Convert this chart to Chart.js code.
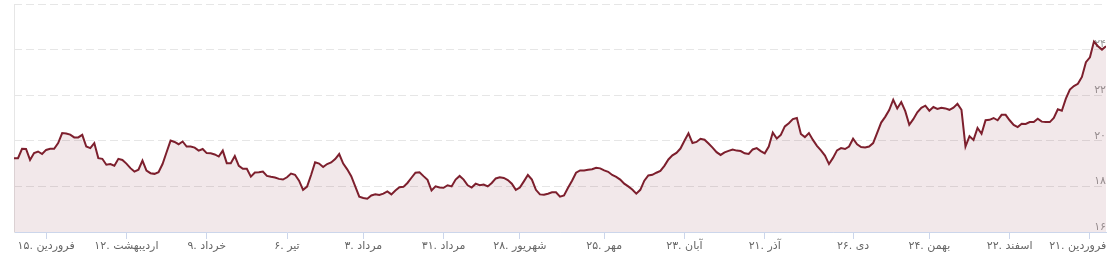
<!DOCTYPE html>
<html>
<head>
<meta charset="utf-8">
<script src="https://cdn.jsdelivr.net/npm/chart.js@4.4.1/dist/chart.umd.min.js"></script>
<style>
  html, body { margin: 0; padding: 0; background: #fff; }
</style>
</head>
<body>
<canvas id="priceChart" width="1108" height="276"></canvas>
<script>
// one value per trading day
const prices = [
  19.24,19.24,19.65,19.64,19.16,19.46,19.53,19.42,19.60,19.65,
  19.65,19.90,20.34,20.32,20.27,20.15,20.15,20.26,19.75,19.68,
  19.90,19.24,19.21,18.95,18.98,18.91,19.21,19.16,19.00,18.80,
  18.65,18.73,19.13,18.69,18.58,18.55,18.62,18.98,19.50,20.01,
  19.95,19.85,19.97,19.75,19.75,19.70,19.57,19.64,19.46,19.45,
  19.40,19.31,19.57,19.02,19.02,19.33,18.90,18.77,18.77,18.43,
  18.61,18.62,18.65,18.46,18.42,18.39,18.33,18.30,18.40,18.56,
  18.51,18.25,17.85,17.99,18.50,19.06,19.00,18.85,18.98,19.05,
  19.20,19.42,19.00,18.75,18.45,18.00,17.55,17.49,17.46,17.60,
  17.65,17.62,17.68,17.78,17.65,17.82,17.96,17.98,18.15,18.38,
  18.60,18.62,18.45,18.29,17.82,18.00,17.95,17.94,18.05,18.00,
  18.30,18.46,18.30,18.05,17.95,18.12,18.05,18.08,18.00,18.15,
  18.35,18.40,18.37,18.28,18.12,17.85,17.95,18.22,18.50,18.30,
  17.85,17.65,17.63,17.68,17.74,17.74,17.55,17.60,17.94,18.25,
  18.60,18.70,18.70,18.73,18.75,18.82,18.79,18.70,18.64,18.50,
  18.42,18.30,18.12,18.00,17.86,17.68,17.85,18.25,18.48,18.51,
  18.60,18.68,18.90,19.18,19.36,19.47,19.66,20.00,20.33,19.90,
  19.95,20.09,20.05,19.88,19.70,19.50,19.38,19.49,19.56,19.62,
  19.57,19.55,19.45,19.42,19.62,19.68,19.55,19.45,19.75,20.36,
  20.10,20.26,20.63,20.77,20.95,21.00,20.30,20.16,20.34,20.04,
  19.78,19.58,19.35,18.98,19.25,19.58,19.68,19.64,19.75,20.09,
  19.85,19.73,19.71,19.75,19.90,20.35,20.80,21.05,21.35,21.80,
  21.42,21.70,21.30,20.70,20.95,21.25,21.45,21.54,21.32,21.48,
  21.40,21.45,21.42,21.36,21.45,21.62,21.36,19.75,20.20,20.04,
  20.56,20.31,20.90,20.92,21.00,20.90,21.14,21.14,20.90,20.70,
  20.60,20.75,20.74,20.82,20.82,20.97,20.84,20.82,20.82,21.00,
  21.38,21.32,21.85,22.25,22.40,22.50,22.80,23.45,23.66,24.35,
  24.15,24.00,24.15
];

// trading-day index of each date label on the x axis
const tickDays = [8, 28, 48, 68, 87, 107, 126, 147, 167, 187, 209, 228, 248, 268];
const tickLabels = [
  "۱۵. فروردین", "۱۲. اردیبهشت", "۹. خرداد", "۶. تیر", "۳. مرداد",
  "۳۱. مرداد", "۲۸. شهریور", "۲۵. مهر", "۲۳. آبان", "۲۱. آذر",
  "۲۶. دی", "۲۴. بهمن", "۲۲. اسفند", "۲۱. فروردین"
];
const yMin = 16;
const yMax = 26;
const yStep = 2;

const faDigits = "۰۱۲۳۴۵۶۷۸۹";
function toFa(n) {
  return String(n).replace(/\d/g, d => faDigits[d]);
}

const fontFamily = "'DejaVu Sans', 'Noto Sans', sans-serif";
const points = prices.map((v, i) => ({ x: i, y: v }));

function xLabel(v) {
  const i = tickDays.indexOf(v);
  const text = tickLabels[i];
  // last label sits against the right edge, so push it left a little
  return i === tickLabels.length - 1 ? text + "\u00A0".repeat(7) : text;
}

const ctx = document.getElementById("priceChart").getContext("2d");
new Chart(ctx, {
  type: "line",
  data: {
    datasets: [{
      data: points,
      borderColor: "#7d1f2d",
      borderWidth: 2,
      backgroundColor: "rgba(127, 29, 45, 0.1)",
      fill: "start",
      pointRadius: 0,
      tension: 0
    }]
  },
  options: {
    responsive: false,
    animation: false,
    devicePixelRatio: 1,
    layout: { padding: { left: 14, top: 4, right: 0, bottom: 0 } },
    plugins: { legend: { display: false }, tooltip: { enabled: false } },
    scales: {
      x: {
        type: "linear",
        min: 0,
        max: prices.length - 1,
        afterBuildTicks: scale => {
          scale.ticks = tickDays.map(v => ({ value: v }));
        },
        afterFit: scale => {
          scale.height = 44;
          scale.paddingLeft = 0;
          scale.paddingRight = 0;
        },
        ticks: {
          autoSkip: false,
          maxRotation: 0,
          padding: 1,
          color: "#666",
          font: { size: 11, family: fontFamily },
          callback: xLabel
        },
        grid: { drawOnChartArea: false, tickLength: 7, color: "#ccd6eb" },
        border: { color: "#ccd6eb" }
      },
      y: {
        position: "right",
        min: yMin,
        max: yMax,
        afterFit: scale => {
          scale.width = 2;
          scale.paddingTop = 0;
          scale.paddingBottom = 0;
        },
        ticks: {
          stepSize: yStep,
          mirror: true,
          padding: 0,
          labelOffset: -5,
          color: "#999",
          font: { size: 11, family: fontFamily },
          callback: v => (v === yMax ? "" : toFa(v))
        },
        grid: { color: "#e6e6e6", drawTicks: false },
        border: { display: false, dash: [8, 4] }
      },
      yLeft: {
        position: "left",
        min: yMin,
        max: yMax,
        afterFit: scale => { scale.width = 0; },
        ticks: { display: false },
        grid: { display: false },
        border: { color: "#e6e6e6" }
      }
    }
  }
});
</script>
</body>
</html>
